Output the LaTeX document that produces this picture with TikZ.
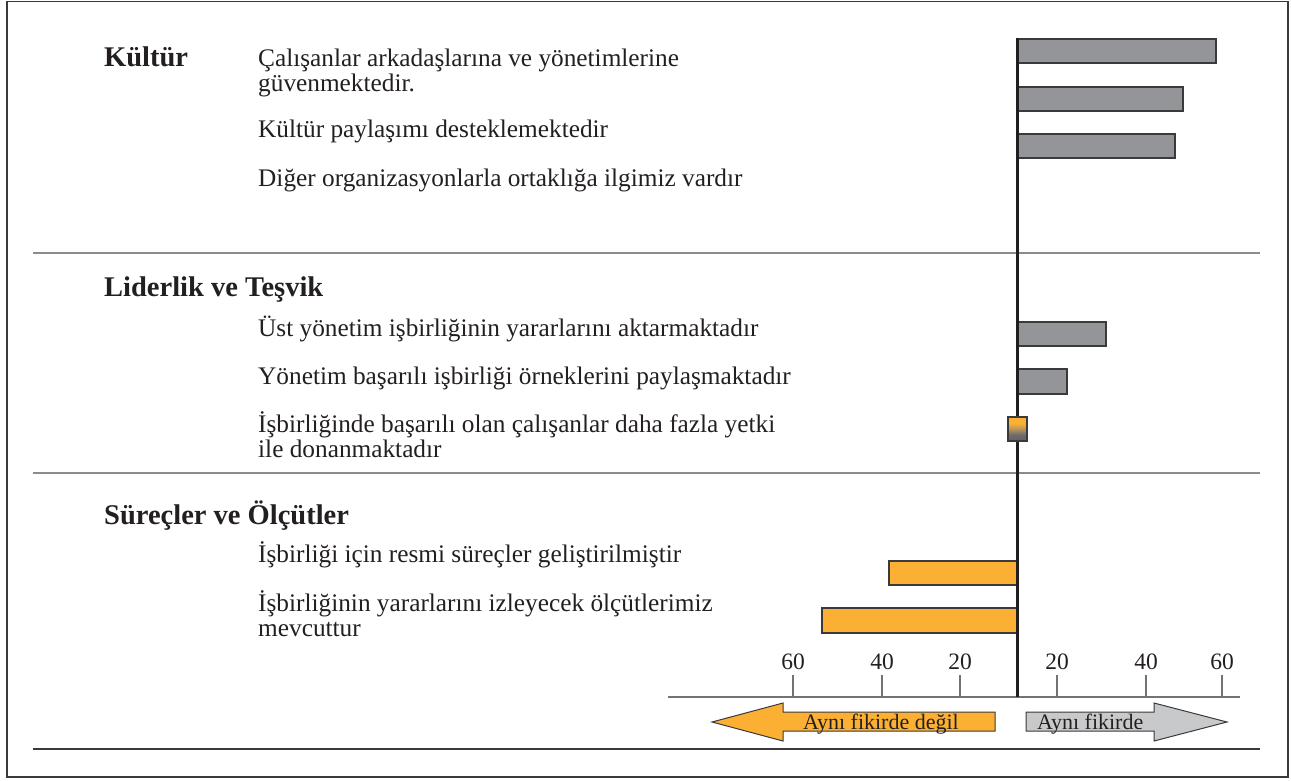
\documentclass[tikz,border=0pt]{standalone}
\usepackage{fontspec}
\setmainfont{Liberation Serif}
\definecolor{ink}{HTML}{231F20}
\definecolor{bargray}{HTML}{939598}
\definecolor{barorange}{HTML}{FBB034}
\definecolor{lightgray}{HTML}{C8C9CB}
\definecolor{rulegray}{HTML}{8C8C8C}
\definecolor{edge}{HTML}{3A3A3A}
% orange at the top fading into dark grey at the bottom
\pgfdeclareverticalshading{smallbar}{100bp}{
  color(0bp)=(gray!55!black); color(38bp)=(gray!85!black);
  color(52bp)=(barorange!55!gray); color(62bp)=(barorange);
  color(100bp)=(barorange)}
\begin{document}
\begin{tikzpicture}[x=1pt,y=-1pt,
  item/.style={anchor=base west, inner sep=0pt, align=left, text=ink,
    font=\fontsize{25.3}{25}\selectfont},
  head/.style={anchor=base west, inner sep=0pt, text=ink,
    font=\fontsize{28.5}{30}\selectfont\bfseries},
  ticklabel/.style={anchor=base, inner sep=0pt, text=ink,
    font=\fontsize{23.5}{24}\selectfont},
  arrowlabel/.style={inner sep=0pt, text=ink,
    font=\fontsize{22}{24}\selectfont},
  posbar/.style={fill=bargray, draw=edge, line width=1.2pt},
  negbar/.style={fill=barorange, draw=edge, line width=1.2pt},
  divider/.style={draw=rulegray, line width=2pt},
  scale line/.style={draw=gray!90!black, line width=1.4pt},
  bigarrow/.style={draw=edge, line width=1pt, line join=miter},
]
\useasboundingbox (0,0) rectangle (1291,780);

% outer frame and section rules
\draw[edge, line width=1.5pt] (7,1.5) rectangle (1288,777);
\draw[divider] (33,253) -- (1260,253);
\draw[divider] (33,473) -- (1260,473);
\draw[edge, line width=1.5pt] (33,749) -- (1260,749);

% section 1 (two-line items are placed at the baseline of their last line)
\node[head] (h1) at (104,66) {Kültür};
\node[item] (t11) at (258,91) {Çalışanlar arkadaşlarına ve yönetimlerine\\güvenmektedir.};
\node[item] (t12) at (258,137) {Kültür paylaşımı desteklemektedir};
\node[item] (t13) at (258,186) {Diğer organizasyonlarla ortaklığa ilgimiz vardır};

% section 2
\node[head] (h2) at (104,296) {Liderlik ve Teşvik};
\node[item] (t21) at (258,336) {Üst yönetim işbirliğinin yararlarını aktarmaktadır};
\node[item] (t22) at (258,384) {Yönetim başarılı işbirliği örneklerini paylaşmaktadır};
\node[item] (t23) at (258,457) {İşbirliğinde başarılı olan çalışanlar daha fazla yetki\\ile donanmaktadır};

% section 3
\node[head] (h3) at (104,524) {Süreçler ve Ölçütler};
\node[item] (t31) at (258,562) {İşbirliği için resmi süreçler geliştirilmiştir};
\node[item] (t32) at (258,636) {İşbirliğinin yararlarını izleyecek ölçütlerimiz\\mevcuttur};

% bars
\draw[posbar] (1017,39) rectangle (1216,63);
\draw[posbar] (1017,87) rectangle (1183,111);
\draw[posbar] (1017,134) rectangle (1175,158);
\draw[posbar] (1017,322) rectangle (1106,346);
\draw[posbar] (1017,369) rectangle (1067,394);
\draw[negbar] (889,561) rectangle (1017,585);
\draw[negbar] (822,608) rectangle (1017,633);

% horizontal scale
\draw[scale line] (668,697) -- (1240,697);
\foreach \x/\v [count=\i] in {793/60,882/40,960/20,1057/20,1146/40,1222/60}{
  \draw[scale line] (\x,675) -- (\x,697);
  \node[ticklabel] (tick\i) at (\x,669) {\v};
}

% zero axis
\draw[ink, line width=3pt] (1017,38) -- (1017,697);

% near-zero bar
\shade[shading=smallbar] (1008,417) rectangle (1027,441);
\draw[edge, line width=1.2pt] (1008,417) rectangle (1027,441);

% direction arrows
\draw[bigarrow, fill=barorange]
  (712,722) -- (783,703) -- (783,712) -- (995,712) -- (995,731) -- (783,731) -- (783,741) -- cycle;
\draw[bigarrow, fill=lightgray]
  (1227,722) -- (1154,703) -- (1154,712) -- (1026,712) -- (1026,731) -- (1154,731) -- (1154,741) -- cycle;
\node[arrowlabel, anchor=base] (disagree) at (881,729) {Aynı fikirde değil};
\node[arrowlabel, anchor=base west] (agree) at (1037,729) {Aynı fikirde};
\end{tikzpicture}
\end{document}
